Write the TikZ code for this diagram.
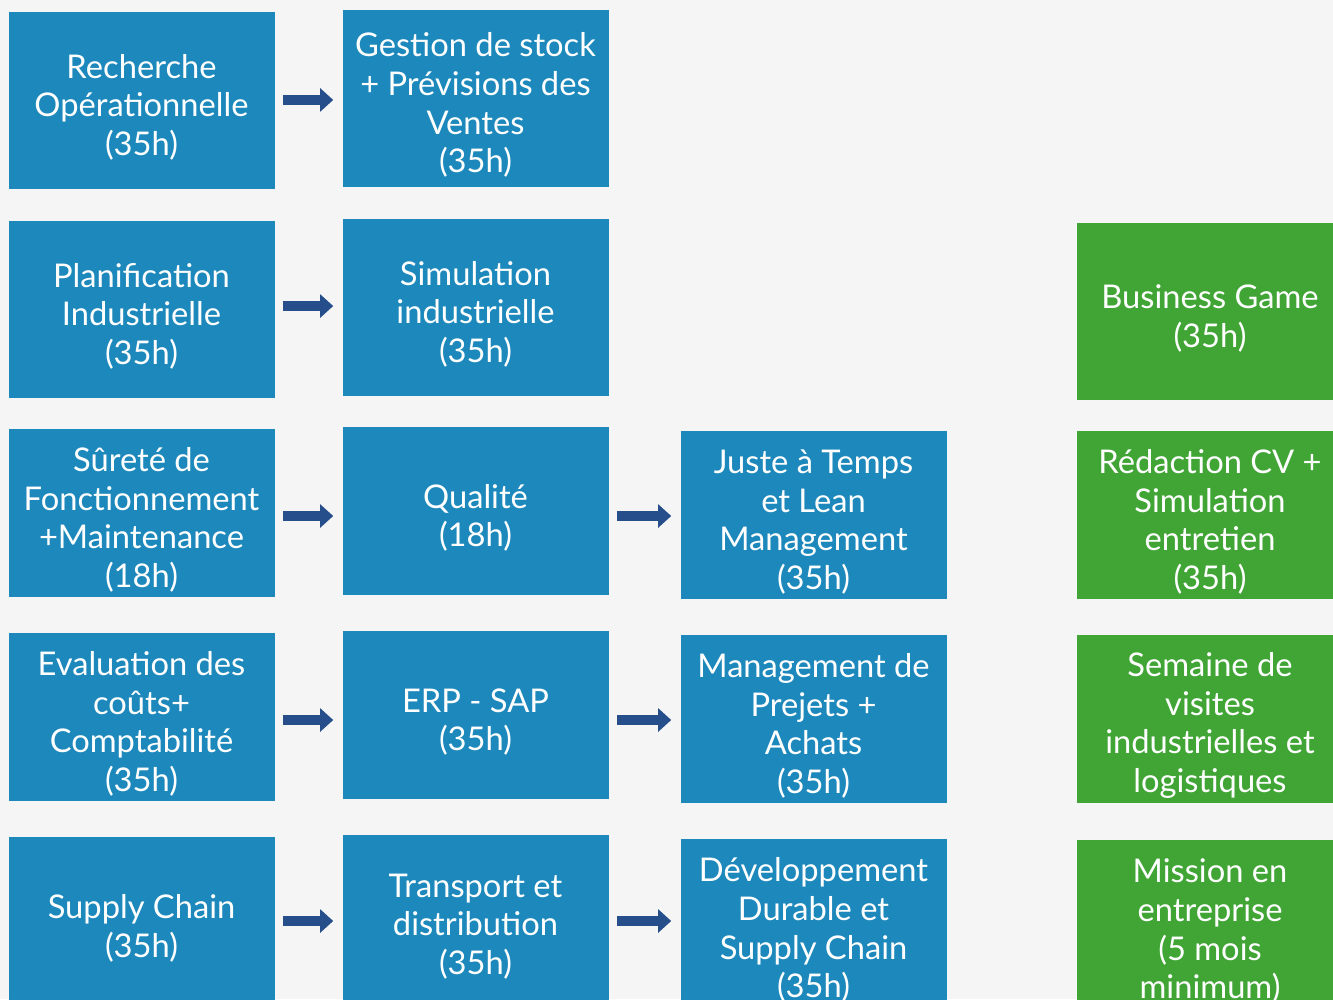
\documentclass[tikz,border=0pt]{standalone}
\usepackage{fontspec}
\setmainfont{Lato}
\usetikzlibrary{arrows.meta}

\definecolor{fondC}{RGB}{245,245,245}
\definecolor{bleuC}{RGB}{28,136,187}
\definecolor{vertC}{RGB}{64,165,53}
\definecolor{flecheC}{RGB}{38,78,138}

% espace en tete de la premiere ligne
\newcommand{\decal}{\rule{0pt}{28pt}}
\newcommand{\decalbas}{\rule{0pt}{22.75pt}}

\begin{document}
\begin{tikzpicture}[x=0.75pt,y=-0.75pt,
    module/.style={fill=bleuC,text=white,inner sep=0pt,align=center,
      minimum width=199.5pt,font=\fontsize{24.5}{28.9}\selectfont},
    haut/.style={minimum height=132.75pt},
    bas/.style={minimum height=126pt},
    stage/.style={module,fill=vertC},
    fleche/.style={draw=flecheC,line width=7.5pt,
      -{Triangle[length=9.75pt,width=17pt]},shorten <=6pt,shorten >=6.75pt}]
    \fill[fondC] (0,0) rectangle (1333,999);
    \useasboundingbox (0,0) rectangle (1333,999);
    % ligne 1
    \node[module,haut] (rech) at (141.5,100.5) {\decal Recherche\\Opérationnelle\\(35h)};
    \node[module,haut] (stock) at (475.5,98.5) {\decal Gestion de stock\\+ Prévisions des\\Ventes\\(35h)};
    % ligne 2
    \node[module,haut] (plan) at (141.5,309.5) {\decal Planification\\Industrielle\\(35h)};
    \node[module,haut] (simu) at (475.5,307.5) {\decal Simulation\\industrielle\\(35h)};
    \node[stage,haut] (game) at (1210,311.5) {\decal Business Game\\(35h)};
    % ligne 3
    \node[module,bas] (surete) at (141.5,513) {\decal Sûreté de\\Fonctionnement\\+Maintenance\\(18h)};
    \node[module,bas] (qualite) at (475.5,511) {\decal Qualité\\(18h)};
    \node[module,bas] (jat) at (813.5,515) {\decal Juste à Temps\\et Lean\\Management\\(35h)};
    \node[stage,bas] (cv) at (1210,515) {\decal Rédaction CV +\\Simulation\\entretien\\(35h)};
    % ligne 4
    \node[module,bas] (couts) at (141.5,717) {\decal Evaluation des\\coûts+\\Comptabilité\\(35h)};
    \node[module,bas] (erp) at (475.5,715) {\decal ERP - SAP\\(35h)};
    \node[module,bas] (projets) at (813.5,719) {\decal Management de\\Prejets +\\Achats\\(35h)};
    \node[stage,bas] (visites) at (1210,719) {\decal Semaine de\\visites\\industrielles et\\logistiques};
    % ligne 5
    \node[module,haut] (supply) at (141.5,925) {\decalbas Supply Chain\\(35h)};
    \node[module,haut] (transport) at (475.5,923) {\decalbas Transport et\\distribution\\(35h)};
    \node[module,haut] (durable) at (813.5,927) {\decalbas Développement\\Durable et\\Supply Chain\\(35h)};
    \node[stage,haut] (mission) at (1210,928) {\decalbas Mission en\\entreprise\\(5 mois\\minimum)};
    %
    \draw[fleche] ([yshift=0.4pt]rech.east) -- ([yshift=0.4pt]rech.east -| stock.west);
    \draw[fleche] ([yshift=2.6pt]plan.east) -- ([yshift=2.6pt]plan.east -| simu.west);
    \draw[fleche] ([yshift=-2.25pt]surete.east) -- ([yshift=-2.25pt]surete.east -| qualite.west);
    \draw[fleche] ([yshift=-3.75pt]qualite.east) -- ([yshift=-3.75pt]qualite.east -| jat.west);
    \draw[fleche] ([yshift=-2.25pt]couts.east) -- ([yshift=-2.25pt]couts.east -| erp.west);
    \draw[fleche] ([yshift=-3.75pt]erp.east) -- ([yshift=-3.75pt]erp.east -| projets.west);
    \draw[fleche] ([yshift=3pt]supply.east) -- ([yshift=3pt]supply.east -| transport.west);
    \draw[fleche] ([yshift=1.5pt]transport.east) -- ([yshift=1.5pt]transport.east -| durable.west);
\end{tikzpicture}
\end{document}
